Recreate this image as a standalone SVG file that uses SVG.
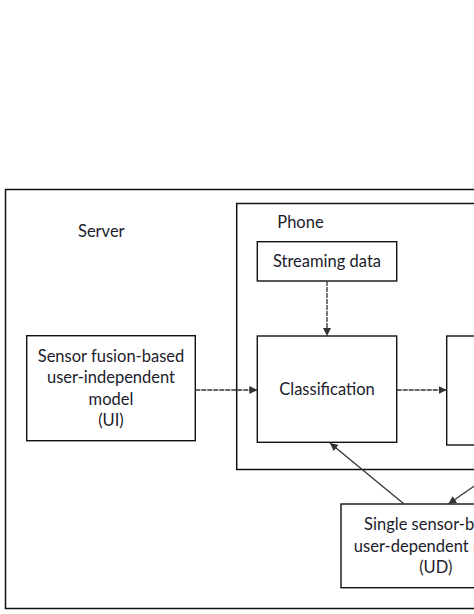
<svg xmlns="http://www.w3.org/2000/svg" width="474" height="614" viewBox="0 0 474 614">
<defs>
<marker id="ah" viewBox="0 0 10 10" refX="10" refY="5" markerWidth="8" markerHeight="8" markerUnits="userSpaceOnUse" orient="auto">
<path d="M0,0 L10,5 L0,10 z" fill="#333"/>
</marker>
<style>
.box{fill:#fff;stroke:#111;stroke-width:1.4}
.frame{fill:none;stroke:#111;stroke-width:1.5}
.t{font-family:Lato,"Liberation Sans",sans-serif;font-size:16.5px;fill:#1c1c2c}
.c{text-anchor:middle}
.ln{stroke:#333;stroke-width:1.3;fill:none;marker-end:url(#ah)}
.dash{stroke-dasharray:5 1}
</style>
</defs>
<rect width="474" height="614" fill="#fff"/>
<g id="server">
<rect class="frame" x="5.5" y="189.5" width="620" height="419"/>
<text class="t" x="78" y="237">Server</text>
</g>
<g id="phone">
<rect class="frame" x="236.7" y="203.5" width="360" height="266"/>
<text class="t" x="277.3" y="228">Phone</text>
</g>
<g id="ui-model">
<rect class="box" x="26.7" y="335.7" width="168.6" height="105"/>
<text class="t c" x="111" y="362">Sensor fusion-based</text>
<text class="t c" x="111" y="383.3">user-independent</text>
<text class="t c" x="111" y="404.6">model</text>
<text class="t c" x="111" y="426">(UI)</text>
</g>
<g id="streaming">
<rect class="box" x="257.3" y="241.7" width="139.4" height="39.3"/>
<text class="t c" x="327" y="266.5">Streaming data</text>
</g>
<g id="classification">
<rect class="box" x="257.3" y="336" width="139.4" height="106.3"/>
<text class="t c" x="327" y="395">Classification</text>
</g>
<g id="next-step">
<rect class="box" x="446.7" y="336" width="139.4" height="109"/>
</g>
<g id="ud-model">
<rect class="box" x="341" y="504" width="189" height="83.7"/>
<text class="t c" x="435.8" y="530">Single sensor-based</text>
<text class="t c" x="435.8" y="552">user-dependent model</text>
<text class="t c" x="435.8" y="572.5">(UD)</text>
</g>
<g id="connectors">
<line class="ln dash" x1="195.3" y1="390" x2="257.3" y2="390"/>
<line class="ln dash" x1="327" y1="281" x2="327" y2="336"/>
<line class="ln dash" x1="396.7" y1="390" x2="446.7" y2="390"/>
<line class="ln" x1="404" y1="504" x2="330" y2="443"/>
<line class="ln" x1="534" y1="445" x2="448.3" y2="504"/>
</g>
</svg>
